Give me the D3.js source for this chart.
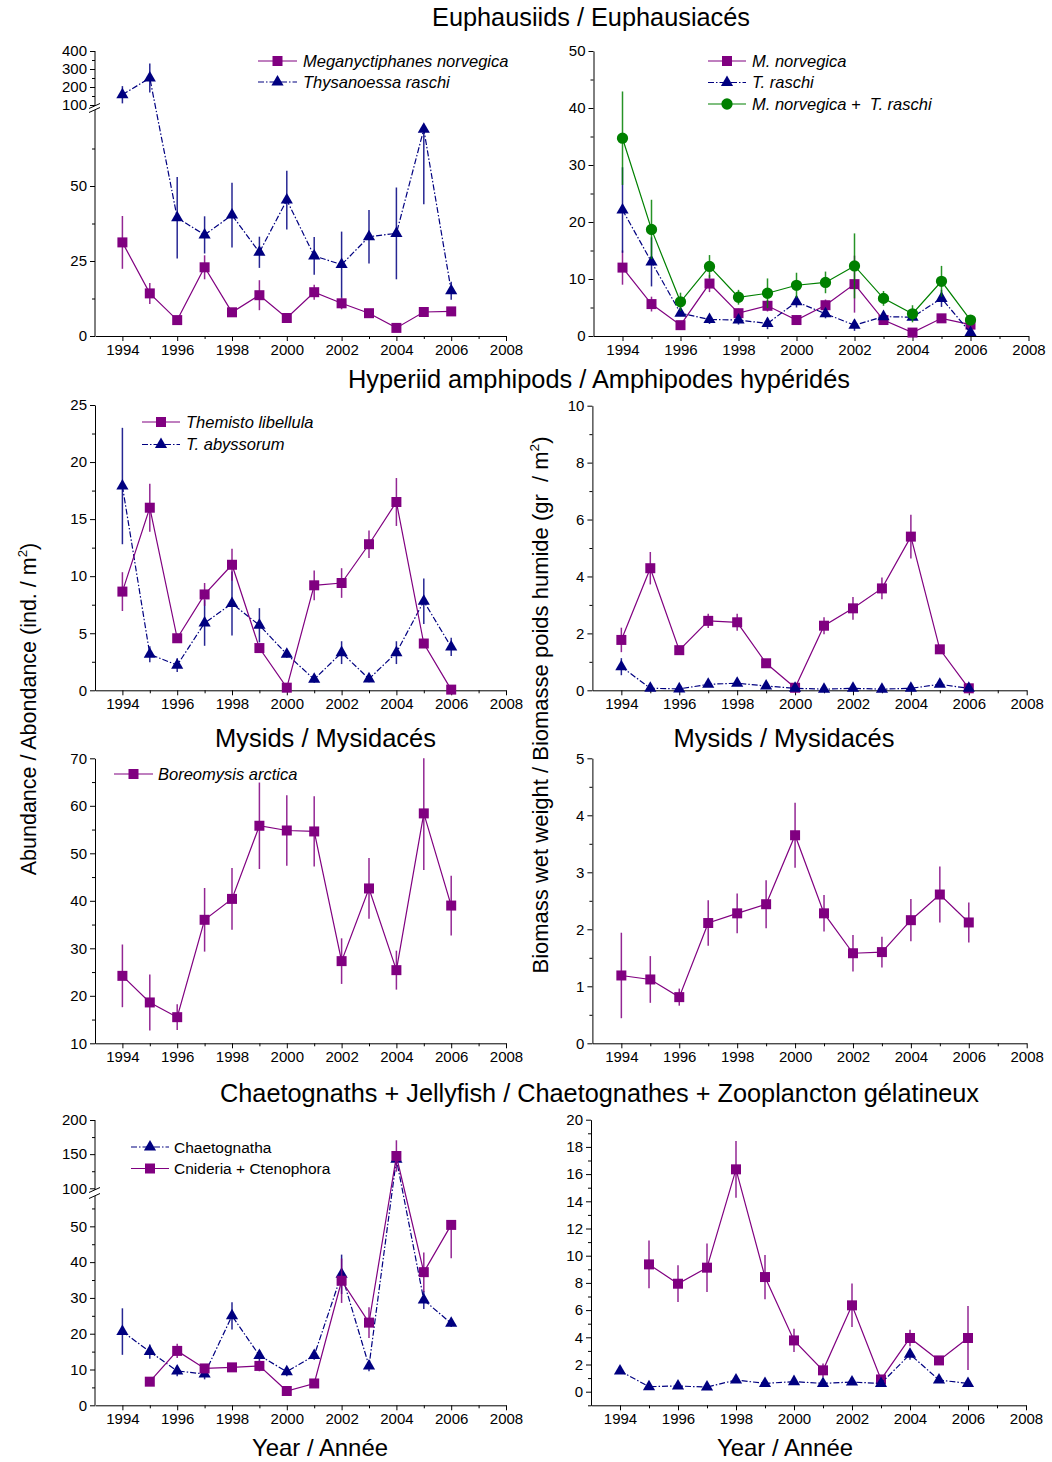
<!DOCTYPE html>
<html><head><meta charset="utf-8">
<script src="https://cdn.jsdelivr.net/npm/d3@7"></script>
<style>
body{margin:0;background:#fff}
text{font-family:"Liberation Sans",Arial,sans-serif}
</style>
</head><body>
<svg id="c" width="1052" height="1462"></svg>
<script>
// ---------------- DATA ----------------
const years = [1994,1995,1996,1997,1998,1999,2000,2001,2002,2003,2004,2005,2006];
const yearTicks = [1994,1996,1998,2000,2002,2004,2006,2008];

// Euphausiids abundance (ind./m2)
const mnorvAbund    = [31.2,14.2,5.3,22.9,7.9,13.6,6.0,14.6,10.9,7.6,2.7,8.0,8.2];
const mnorvAbundErr = [8.8,3.5,0.6,4,1,5,1,2.5,2,1,0.8,0.5,0.5];
const traschiAbund    = [157,250,39.4,33.7,40.3,27.9,45.3,26.7,23.8,33.1,34.2,68.9,15.1];
const traschiAbundErr = [48,80,13.6,6.2,10.8,5.2,9.8,6.3,11,8.9,15.3,25,3];
const traschiAbundErrUp = [48,80,13.6,6.2,10.8,5.2,9.8,6.3,11,8.9,15.3,0,3];
// Euphausiids biomass (g/m2)
const mnorvBio    = [12.0,5.6,1.9,9.2,4.0,5.3,2.8,5.4,9.1,2.8,0.6,3.1,2.0];
const mnorvBioErr = [3,1.3,0.5,1.5,0.8,1,0.8,1,5,0.5,0.3,0.5,0.5];
const traschiBio    = [22.1,13.0,4.0,2.9,2.8,2.2,6.0,3.9,1.9,3.4,3.3,6.6,0.6];
const traschiBioErr = [7.5,4.3,0.5,0.8,0.8,1,1,0.8,1,0.5,0.5,1.5,0.3];
const combinedBio    = [34.7,18.7,6.0,12.2,6.8,7.5,8.9,9.4,12.3,6.6,3.9,9.6,2.8];
const combinedBioErr = [8.2,5.2,1.6,2,1.3,2.6,2.2,1.9,5.7,1.3,1.5,2.7,0.7];

// Hyperiid amphipods
const tlibAbund    = [8.65,16.0,4.56,8.4,11.0,3.7,0.23,9.2,9.4,12.8,16.5,4.1,0.06];
const tlibAbundErr = [1.7,2.1,0.4,1,1.4,0.3,0.1,1.3,1.3,1.2,2.1,0.3,0.05];
const tabyAbund    = [17.9,3.16,2.2,5.9,7.6,5.7,3.16,0.96,3.3,1.0,3.3,7.8,3.8];
const tabyAbundErr = [5.1,0.7,0.6,2,2.8,1.5,0.3,0.3,1,0.3,1,2,0.8];
const tlibBio    = [1.77,4.29,1.41,2.44,2.39,0.95,0.09,2.27,2.88,3.58,5.4,1.44,0.07];
const tlibBioErr = [0.43,0.57,0.1,0.25,0.3,0.05,0.03,0.3,0.4,0.38,0.77,0.15,0.02];
const tabyBio    = [0.83,0.07,0.05,0.21,0.25,0.15,0.07,0.04,0.07,0.04,0.07,0.21,0.07];
const tabyBioErr = [0.3,0.02,0.02,0.05,0.05,0.03,0.02,0.01,0.02,0.01,0.02,0.05,0.02];

// Mysids
const borAbund    = [24.2,18.6,15.5,36.0,40.4,55.8,54.8,54.6,27.3,42.6,25.4,58.4,39.0];
const borAbundErr = [6.6,5.9,2.7,6.7,6.5,9.1,7.4,7.4,4.8,6.4,4.1,11.9,6.3];
const borBio    = [1.19,1.12,0.81,2.11,2.28,2.44,3.65,2.28,1.58,1.60,2.16,2.61,2.12];
const borBioErr = [0.75,0.41,0.15,0.4,0.35,0.42,0.57,0.32,0.32,0.27,0.37,0.49,0.35];

// Chaetognaths + jellyfish
const chaetAbund    = [20.6,15.0,9.6,8.75,25.0,13.9,9.4,13.9,36.6,11.0,142.5,29.4,22.9];
const chaetAbundErr = [6.5,2,1.5,1.5,3.8,1.5,1.3,1.2,5.5,1.5,10,2.5,1];
const cnidAbund    = [null,6.6,15.2,10.3,10.6,11.0,4.0,6.1,34.8,23.1,147.3,37.2,50.4];
const cnidAbundErr = [null,0.5,2,1,1.2,1.5,0.8,0.8,6.2,4.3,23,5.5,9.3];
const cnidAbundErrUp = [null,0.5,2,1,1.2,1.5,0.8,0.8,6.2,4.3,23,5.5,0];
const cnidBio    = [null,9.36,7.94,9.12,16.35,8.43,3.77,1.57,6.35,0.9,3.95,2.3,3.95];
const cnidBioErr = [null,1.75,1.35,1.78,2.08,1.63,0.85,0.5,1.6,0.2,0.6,0.3,2.35];
const chaetBio    = [1.52,0.37,0.42,0.34,0.86,0.61,0.74,0.61,0.71,0.61,2.75,0.86,0.61];
const chaetBioErr = [0.2,0.15,0.15,0.15,0.2,0.2,0.2,0.2,0.2,0.2,0.4,0.2,0.2];

// ---------------- STYLE ----------------
const PURPLE = "#800080", NAVY = "#000080", GREEN = "#008000";
const DASHDOT = "6,2,1.5,2";
const FONT = '"Liberation Sans", Arial, sans-serif';

const svg = d3.select("#c");
svg.append("rect").attr("width",1052).attr("height",1462).attr("fill","#fff");

const shapes = {
  square: d3.symbol().type(d3.symbolSquare).size(100),
  triangle: d3.symbol().type(d3.symbolTriangle).size(64),
  circle: d3.symbol().type(d3.symbolCircle).size(100)
};

function styleAxis(sel){
  sel.attr("font-size",15).attr("font-family",FONT);
  sel.selectAll("text").attr("fill","#000");
  sel.selectAll("line,path").attr("stroke","#000").attr("stroke-width",1);
}

function drawPanel(p){
  const g = svg.append("g");
  const x = d3.scaleLinear().domain([1993,2008]).range(p.xr);
  const y = d3.scaleLinear().domain(p.yd).range(p.yr);
  const yBottom = p.yr[0];
  const yTop = p.yr[p.yr.length-1];

  // X axis
  const xa = g.append("g").attr("transform",`translate(0,${yBottom})`);
  xa.call(d3.axisBottom(x).tickValues(yearTicks).tickFormat(d3.format("d"))
      .tickSize(5).tickSizeOuter(0).tickPadding(3));
  const xm = g.append("g").attr("transform",`translate(0,${yBottom})`);
  xm.call(d3.axisBottom(x).tickValues(d3.range(1995,2008,2)).tickFormat("").tickSize(3).tickSizeOuter(0));
  xm.select(".domain").remove();
  styleAxis(xa); styleAxis(xm);

  // Y axis
  const ya = g.append("g").attr("transform",`translate(${p.xr[0]},0)`);
  ya.call(d3.axisLeft(y).tickValues(p.yticks).tickFormat(d3.format("d"))
      .tickSize(5).tickSizeOuter(0).tickPadding(3));
  const ym = g.append("g").attr("transform",`translate(${p.xr[0]},0)`);
  ym.call(d3.axisLeft(y).tickValues(p.yminor).tickFormat("").tickSize(3).tickSizeOuter(0));
  ym.select(".domain").remove();
  styleAxis(ya); styleAxis(ym);

  if (p.brk){
    ya.select(".domain").remove();
    const ax = p.xr[0];
    g.append("line").attr("x1",ax).attr("x2",ax).attr("y1",yBottom).attr("y2",p.brk.lowTop).attr("stroke","#000");
    g.append("line").attr("x1",ax).attr("x2",ax).attr("y1",p.brk.highBot).attr("y2",yTop).attr("stroke","#000");
    [p.brk.highBot, p.brk.lowTop].forEach(yy=>{
      g.append("line").attr("x1",ax-6).attr("x2",ax+5).attr("y1",yy+2.5).attr("y2",yy-2.5)
        .attr("stroke","#000").attr("stroke-width",1);
    });
  }

  p.series.forEach(s=>{
    const up = s.errsUp || s.errs;
    const pts = years.map((yr,i)=>({yr, v:s.vals[i], e:s.errs[i], eu:up[i]})).filter(d=>d.v!=null);
    const sg = g.append("g");
    sg.selectAll(null).data(pts).enter().append("line")
      .attr("x1",d=>x(d.yr)).attr("x2",d=>x(d.yr))
      .attr("y1",d=>{
        let lo = Math.max(d.v - d.e, p.yd[0]);
        if (p.clamp && d.v >= p.clamp[1]) lo = Math.max(lo, p.clamp[1]);
        return y(lo);
      })
      .attr("y2",d=>{
        let hi = Math.min(d.v + d.eu, p.yd[p.yd.length-1]);
        if (p.clamp && d.v <= p.clamp[0]) hi = Math.min(hi, p.clamp[0]);
        return y(hi);
      })
      .attr("stroke",s.color).attr("stroke-width",1.5).attr("stroke-opacity",0.85);
    sg.append("path").datum(pts)
      .attr("d",d3.line().x(d=>x(d.yr)).y(d=>y(d.v)))
      .attr("fill","none").attr("stroke",s.color).attr("stroke-width",1.2)
      .attr("stroke-dasharray",s.dash||null);
    sg.selectAll(null).data(pts).enter().append("path")
      .attr("d",shapes[s.shape])
      .attr("transform",d=>`translate(${x(d.yr)},${y(d.v)})`)
      .attr("fill",s.color);
  });

  if (p.legend){
    const L = p.legend;
    L.items.forEach((it,i)=>{
      const yy = L.y0 + i*L.dy;
      const s = it.s;
      g.append("line").attr("x1",L.x1).attr("x2",L.x2).attr("y1",yy).attr("y2",yy)
        .attr("stroke",s.color).attr("stroke-width",1.2).attr("stroke-dasharray",s.dash||null);
      g.append("path").attr("d",shapes[s.shape]).attr("transform",`translate(${(L.x1+L.x2)/2},${yy})`)
        .attr("fill",s.color);
      g.append("text").attr("x",L.xt).attr("y",yy).attr("dy","0.36em")
        .attr("font-size",L.fs).attr("font-style",L.italic?"italic":"normal")
        .style("white-space","pre").text(it.label);
    });
  }
}

const S = (vals,errs,color,shape,dash,errsUp)=>({vals,errs,color,shape,dash,errsUp});

const sMnA = S(mnorvAbund,mnorvAbundErr,PURPLE,"square");
const sTrA = S(traschiAbund,traschiAbundErr,NAVY,"triangle",DASHDOT,traschiAbundErrUp);
drawPanel({
  xr:[95,506], yd:[0,75,100,400], yr:[336,111,105,51],
  yticks:[0,25,50,100,200,300,400], yminor:[12.5,37.5,62.5,150,250,350],
  brk:{lowTop:110, highBot:106}, clamp:[75,100],
  series:[sMnA,sTrA],
  legend:{x1:258,x2:297,xt:303,y0:61,dy:21,fs:16.5,italic:true,
    items:[{s:sMnA,label:"Meganyctiphanes norvegica"},{s:sTrA,label:"Thysanoessa raschi"}]}
});

const sMnB = S(mnorvBio,mnorvBioErr,PURPLE,"square");
const sTrB = S(traschiBio,traschiBioErr,NAVY,"triangle",DASHDOT);
const sCoB = S(combinedBio,combinedBioErr,GREEN,"circle");
drawPanel({
  xr:[593.5,1028.5], yd:[0,50], yr:[336,51],
  yticks:[0,10,20,30,40,50], yminor:[5,15,25,35,45],
  series:[sMnB,sTrB,sCoB],
  legend:{x1:708,x2:746,xt:752,y0:61,dy:21.5,fs:16.5,italic:true,
    items:[{s:sMnB,label:"M. norvegica"},{s:sTrB,label:"T. raschi"},{s:sCoB,label:"M. norvegica +  T. raschi"}]}
});

const sTlA = S(tlibAbund,tlibAbundErr,PURPLE,"square");
const sTaA = S(tabyAbund,tabyAbundErr,NAVY,"triangle",DASHDOT);
drawPanel({
  xr:[95,506], yd:[0,25], yr:[690.3,405],
  yticks:[0,5,10,15,20,25], yminor:[2.5,7.5,12.5,17.5,22.5],
  series:[sTaA,sTlA],
  legend:{x1:142,x2:180,xt:186,y0:422,dy:22.5,fs:16.5,italic:true,
    items:[{s:sTlA,label:"Themisto libellula"},{s:sTaA,label:"T. abyssorum"}]}
});

const sTlB = S(tlibBio,tlibBioErr,PURPLE,"square");
const sTaB = S(tabyBio,tabyBioErr,NAVY,"triangle",DASHDOT);
drawPanel({
  xr:[592.4,1026.7], yd:[0,10], yr:[690.3,405.7],
  yticks:[0,2,4,6,8,10], yminor:[1,3,5,7,9],
  series:[sTlB,sTaB]
});

const sBoA = S(borAbund,borAbundErr,PURPLE,"square");
drawPanel({
  xr:[95,506], yd:[10,70], yr:[1043.3,758.3],
  yticks:[10,20,30,40,50,60,70], yminor:[15,25,35,45,55,65],
  series:[sBoA],
  legend:{x1:114,x2:153,xt:158,y0:774,dy:22,fs:16.5,italic:true,
    items:[{s:sBoA,label:"Boreomysis arctica"}]}
});

const sBoB = S(borBio,borBioErr,PURPLE,"square");
drawPanel({
  xr:[592.4,1026.7], yd:[0,5], yr:[1043.3,758.3],
  yticks:[0,1,2,3,4,5], yminor:[0.5,1.5,2.5,3.5,4.5],
  series:[sBoB]
});

const sChA = S(chaetAbund,chaetAbundErr,NAVY,"triangle",DASHDOT);
const sCnA = S(cnidAbund,cnidAbundErr,PURPLE,"square",null,cnidAbundErrUp);
drawPanel({
  xr:[95,506], yd:[0,58,100,200], yr:[1405.3,1197.7,1188.3,1120],
  yticks:[0,10,20,30,40,50,100,150,200], yminor:[5,15,25,35,45,55,125,175],
  brk:{lowTop:1196, highBot:1190}, clamp:[58,100],
  series:[sChA,sCnA],
  legend:{x1:131,x2:169,xt:174,y0:1147,dy:21.5,fs:15.5,italic:false,
    items:[{s:sChA,label:"Chaetognatha"},{s:sCnA,label:"Cnideria + Ctenophora"}]}
});

const sCnB = S(cnidBio,cnidBioErr,PURPLE,"square");
const sChB = S(chaetBio,chaetBioErr,NAVY,"triangle",DASHDOT);
drawPanel({
  xr:[591,1026], yd:[-1,20], yr:[1405.3,1119.7],
  yticks:[0,2,4,6,8,10,12,14,16,18,20], yminor:[-1,1,3,5,7,9,11,13,15,17,19],
  series:[sCnB,sChB]
});

// ---------------- TEXT ----------------
function title(txt,cx,by,len,fs){
  svg.append("text").attr("x",cx).attr("y",by).attr("text-anchor","middle")
    .attr("font-size",fs).attr("textLength",len).attr("lengthAdjust","spacingAndGlyphs")
    .attr("fill","#000").text(txt);
}
title("Euphausiids / Euphausiacés",591,26,318,25);
title("Hyperiid amphipods / Amphipodes hypéridés",599,388,502,25);
title("Mysids / Mysidacés",325.5,747,221,25);
title("Mysids / Mysidacés",784,747,221,25);
title("Chaetognaths + Jellyfish / Chaetognathes + Zooplancton gélatineux",599.5,1102,759,25);
title("Year / Année",320,1456,136,24);
title("Year / Année",785,1456,136,24);

function ylabel(parts,x,cy,fs){
  const t = svg.append("text").attr("transform",`translate(${x},${cy}) rotate(-90)`)
    .attr("text-anchor","middle").attr("font-size",fs).attr("fill","#000")
    .style("white-space","pre");
  t.append("tspan").text(parts[0]);
  t.append("tspan").attr("font-size",fs*0.62).attr("dy",-fs*0.42).text("2");
  t.append("tspan").attr("dy",fs*0.42).text(")");
}
ylabel(["Abundance / Abondance (ind. / m"],36,709,21.5);
ylabel(["Biomass wet weight / Biomasse poids humide (gr  / m"],548,705,22);
</script>
</body></html>
